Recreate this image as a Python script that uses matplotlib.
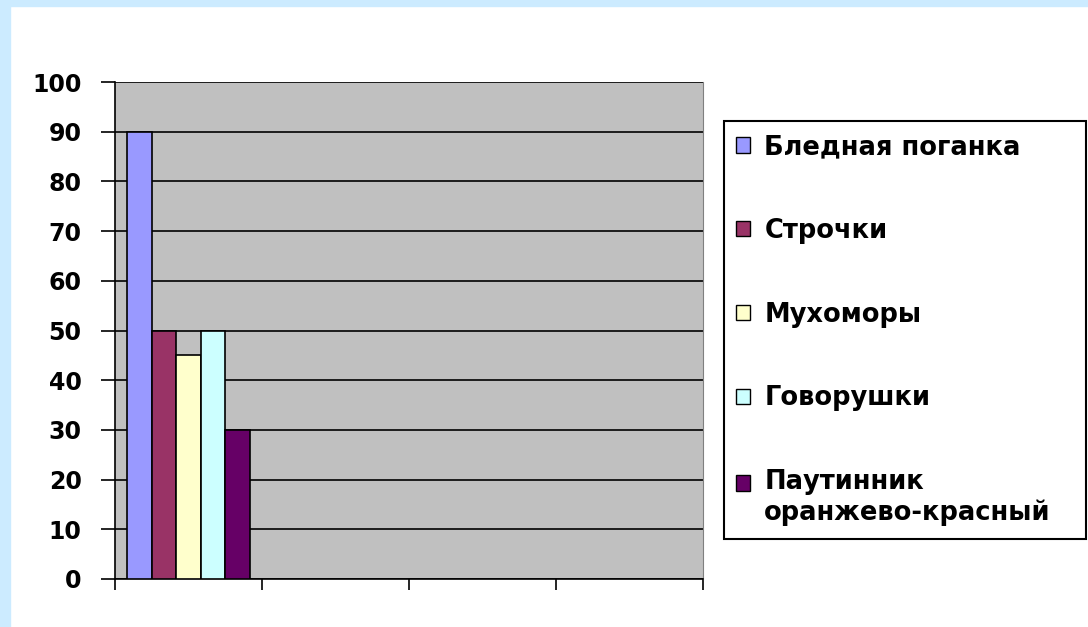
import numpy as np
import matplotlib.pyplot as plt
from matplotlib.patches import Rectangle, Patch
from matplotlib.legend_handler import HandlerPatch

plt.rcParams['font.family'] = ['DejaVu Sans']
plt.rcParams['font.weight'] = 'bold'

series = ['Бледная поганка', 'Строчки', 'Мухоморы', 'Говорушки',
          'Паутинник\nоранжево-красный']
values = [90, 50, 45, 50, 30]
colors = ['#9999FF', '#993366', '#FFFFCC', '#CCFFFF', '#660066']
n_cats = 4
y_ticks = np.arange(0, 101, 10)

W, H = 1088, 627
fig = plt.figure(figsize=(W / 100, H / 100), dpi=100)
fig.patch.set_facecolor('white')
# light blue frame on left and top
fig.patches.append(Rectangle((0, 0), 10 / W, 1, transform=fig.transFigure,
                             color='#CCEBFF', zorder=0))
fig.patches.append(Rectangle((0, 1 - 6 / H), 1, 6 / H, transform=fig.transFigure,
                             color='#CCEBFF', zorder=0))

ax = fig.add_axes([115 / W, 48 / H, 588 / W, 497 / H])
ax.set_facecolor('#C0C0C0')

group_w = 0.837
bar_w = group_w / len(series)
for i, (name, v, c) in enumerate(zip(series, values, colors)):
    x = -group_w / 2 + bar_w * (i + 0.5)
    ax.bar(x, v, bar_w, color=c, edgecolor='black', linewidth=1.2, zorder=3)

ax.set_xlim(-0.5, n_cats - 0.5)
ax.set_ylim(0, 100)
ax.set_yticks(y_ticks)
ax.yaxis.grid(True, color='black', linewidth=1.2, zorder=1)
ax.set_axisbelow(True)
ax.set_xticks(np.arange(n_cats + 1) - 0.5)
ax.set_xticklabels([])
ax.tick_params(axis='y', length=10, width=1.2, labelsize=17, pad=14)
ax.tick_params(axis='x', length=8, width=1.2)
for lbl in ax.get_yticklabels():
    lbl.set_fontweight('bold')
ax.spines['top'].set_visible(False)
ax.spines['right'].set_color('#808080')
ax.spines['left'].set_linewidth(1.2)
ax.spines['bottom'].set_linewidth(1.2)


def square(shift):
    def make(legend, orig_handle, xdescent, ydescent, width, height, fontsize):
        return Rectangle((-xdescent, -ydescent + shift * fontsize), width, height)
    return HandlerPatch(patch_func=make)


# legend frame
fig.patches.append(Rectangle((724 / W, (H - 539) / H), 362 / W, 418 / H,
                             transform=fig.transFigure, facecolor='white',
                             edgecolor='black', linewidth=1.5, zorder=1))

handles = [Patch(facecolor=c, edgecolor='black', linewidth=1) for c in colors]
leg = fig.legend(handles, series, loc='upper left',
                 bbox_to_anchor=(736 / W, (H - 134) / H),
                 prop={'size': 18.5, 'weight': 'bold'}, frameon=False,
                 handlelength=0.55, handleheight=0.55, handletextpad=0.55,
                 labelspacing=2.25, borderpad=0, borderaxespad=0,
                 handler_map={handles[-1]: square(0.6)})

fig.savefig('out.png', dpi=100)
